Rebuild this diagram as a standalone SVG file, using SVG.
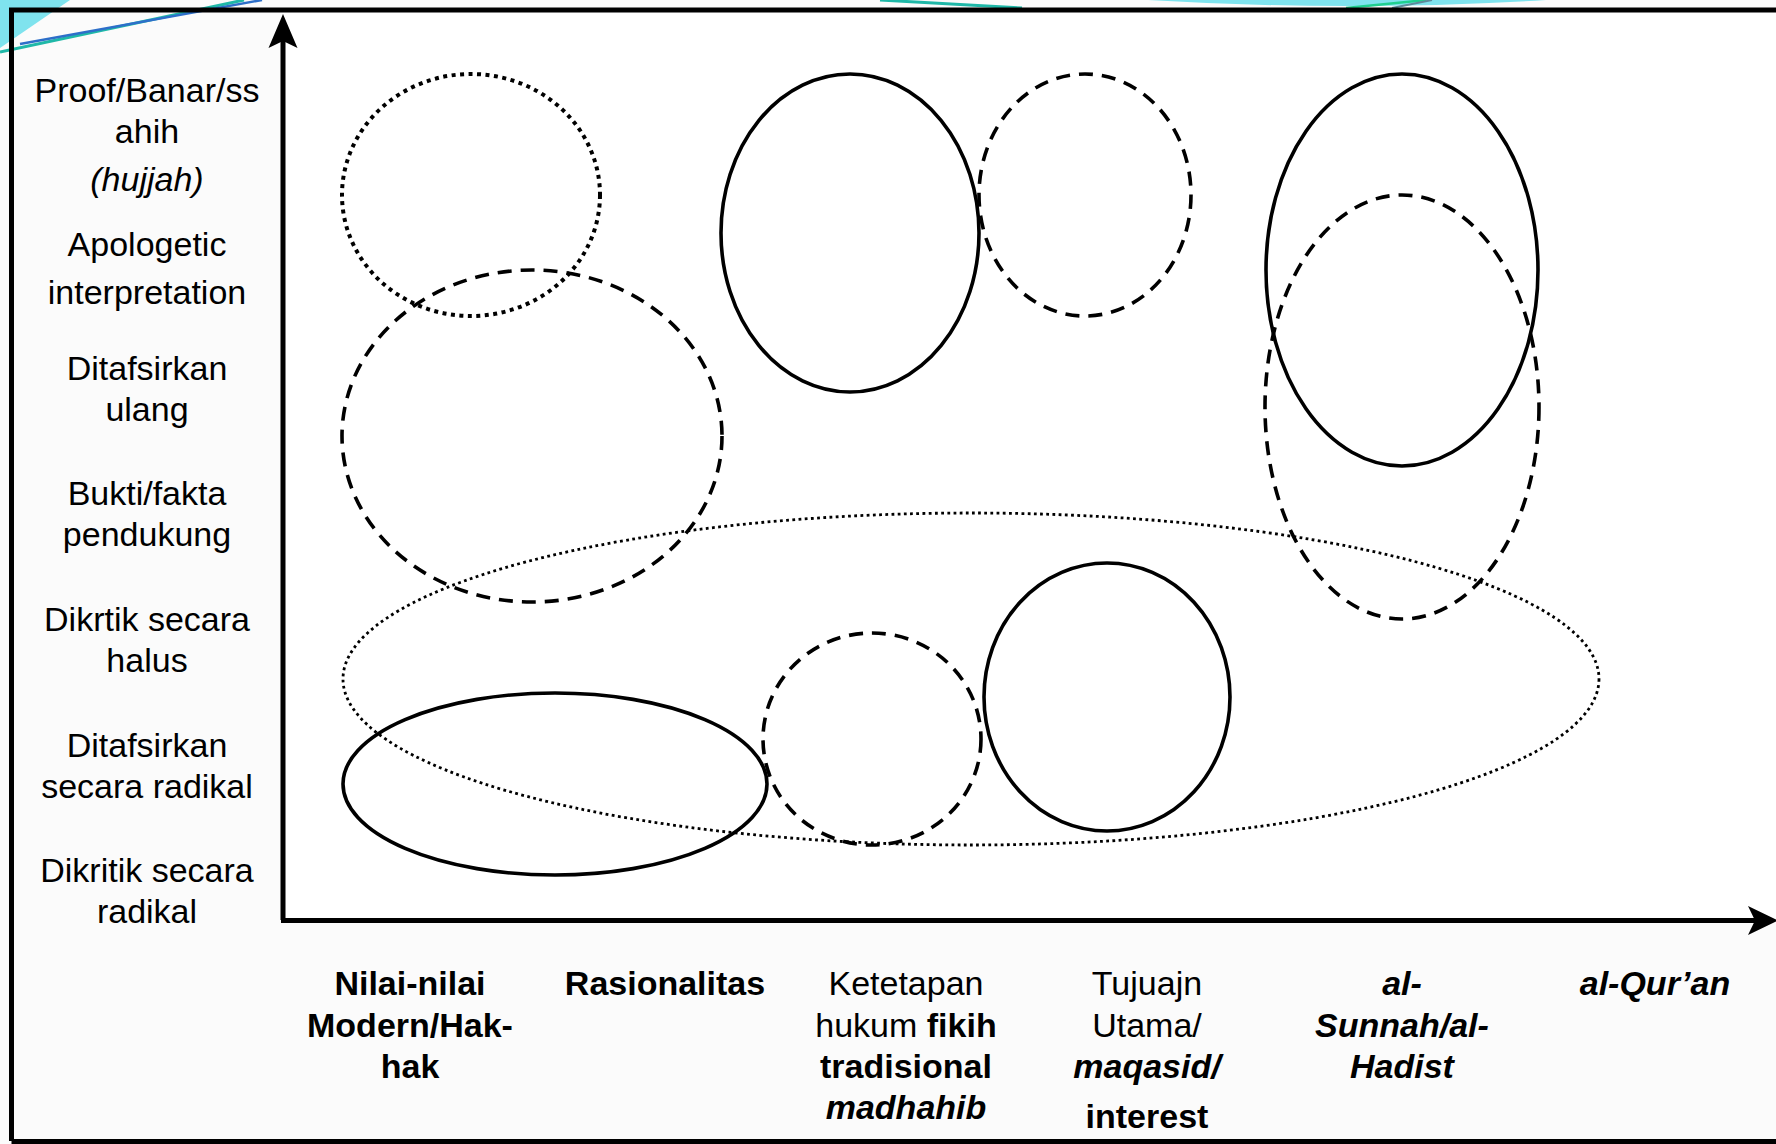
<svg xmlns="http://www.w3.org/2000/svg" width="1776" height="1144" viewBox="0 0 1776 1144">
  <defs>
    <style>
      .lbl { font-family: "Liberation Sans", Arial, sans-serif; font-size: 34px; fill: #000; text-anchor: middle; }
      .b { font-weight: bold; }
      .i { font-style: italic; }
      .solid { fill: none; stroke: #000; stroke-width: 3.6; }
      .dash { fill: none; stroke: #000; stroke-width: 3.6; stroke-dasharray: 14 9; }
      .dot { fill: none; stroke: #000; stroke-width: 4; stroke-dasharray: 4 4.5; }
      .fine { fill: none; stroke: #000; stroke-width: 2.8; stroke-dasharray: 2.8 3.4; }
      .axis { fill: none; stroke: #000; stroke-width: 5; }
      .frame { fill: none; stroke: #000; stroke-width: 5; }
    </style>
  </defs>

  <!-- page background -->
  <rect x="0" y="0" width="1776" height="1144" fill="#fbfbfb"/>
  <!-- plot area -->
  <rect x="283" y="12" width="1493" height="908" fill="#ffffff"/>

  <!-- theme swooshes above the frame -->
  <g id="swoosh">
    <polygon points="0,0 70,0 0,48" fill="#7fe3ee"/>
    <line x1="0" y1="52" x2="244" y2="0" stroke="#1fb8a8" stroke-width="3"/>
    <line x1="20" y1="44" x2="262" y2="0" stroke="#2d6fc9" stroke-width="2.5"/>
    <path d="M1148,0 Q1346,12 1546,0 Z" fill="#7fe3ee"/>
    <line x1="880" y1="0" x2="1022" y2="8" stroke="#1fb8a8" stroke-width="3"/>
    <line x1="1346" y1="8" x2="1426" y2="0" stroke="#1fcf8f" stroke-width="2.5"/>
    <line x1="1392" y1="8" x2="1432" y2="0" stroke="#5d8a9a" stroke-width="2"/>
  </g>

  <!-- outer frame -->
  <path class="frame" d="M11.5,1141 V10 H1776 M11.5,1141.5 H1776"/>

  <!-- axes -->
  <g id="connectors">
    <path class="axis" d="M283,920 V40"/>
    <path d="M283,14 L268.5,48 L283,41 L297.5,48 Z" fill="#000"/>
    <path class="axis" d="M281,920.5 H1755"/>
    <path d="M1778,920.5 L1748,906 L1755,920.5 L1748,935 Z" fill="#000"/>
  </g>

  <!-- y-axis labels -->
  <g id="y-labels" class="lbl">
    <text x="147" y="102">Proof/Banar/ss</text>
    <text x="147" y="143">ahih</text>
    <text x="147" y="191" class="i">(hujjah)</text>
    <text x="147" y="256">Apologetic</text>
    <text x="147" y="304">interpretation</text>
    <text x="147" y="380">Ditafsirkan</text>
    <text x="147" y="421">ulang</text>
    <text x="147" y="505">Bukti/fakta</text>
    <text x="147" y="546">pendukung</text>
    <text x="147" y="631">Dikrtik secara</text>
    <text x="147" y="672">halus</text>
    <text x="147" y="757">Ditafsirkan</text>
    <text x="147" y="798">secara radikal</text>
    <text x="147" y="882">Dikritik secara</text>
    <text x="147" y="923">radikal</text>
  </g>

  <!-- x-axis labels -->
  <g id="x-labels" class="lbl">
    <g id="x-nilai" class="b">
      <text x="410" y="995">Nilai-nilai</text>
      <text x="410" y="1037">Modern/Hak-</text>
      <text x="410" y="1078">hak</text>
    </g>
    <g id="x-rasio" class="b">
      <text x="665" y="995">Rasionalitas</text>
    </g>
    <g id="x-fikih">
      <text x="906" y="995">Ketetapan</text>
      <text x="906" y="1037">hukum <tspan class="b">fikih</tspan></text>
      <text x="906" y="1078" class="b">tradisional</text>
      <text x="906" y="1119" class="b i">madhahib</text>
    </g>
    <g id="x-maqasid">
      <text x="1147" y="995">Tujuajn</text>
      <text x="1147" y="1037">Utama/</text>
      <text x="1147" y="1078" class="b i">maqasid/</text>
      <text x="1147" y="1128" class="b">interest</text>
    </g>
    <g id="x-sunnah" class="b i">
      <text x="1402" y="995">al-</text>
      <text x="1402" y="1037">Sunnah/al-</text>
      <text x="1402" y="1078">Hadist</text>
    </g>
    <g id="x-quran" class="b i">
      <text x="1655" y="995">al-Qur’an</text>
    </g>
  </g>

  <!-- regions in the plot -->
  <g id="e-modern-hujjah"><ellipse class="dot" cx="471" cy="195" rx="129" ry="121"/></g>
  <g id="e-modern-reinterp"><ellipse class="dash" cx="532" cy="436" rx="190" ry="166"/></g>
  <g id="e-rasio-top"><ellipse class="solid" cx="850" cy="233" rx="129" ry="159"/></g>
  <g id="e-fikih-top"><ellipse class="dash" cx="1085" cy="195" rx="106" ry="121"/></g>
  <g id="e-sunnah-solid"><ellipse class="solid" cx="1402" cy="270" rx="136" ry="196"/></g>
  <g id="e-sunnah-dash"><ellipse class="dash" cx="1402" cy="407" rx="137" ry="212"/></g>
  <g id="e-wide"><ellipse class="fine" cx="971" cy="679" rx="628" ry="166"/></g>
  <g id="e-modern-radical"><ellipse class="solid" cx="555" cy="784" rx="212" ry="91"/></g>
  <g id="e-fikih-low"><ellipse class="dash" cx="872" cy="739" rx="109" ry="106"/></g>
  <g id="e-maqasid-low"><ellipse class="solid" cx="1107" cy="697" rx="123" ry="134"/></g>
</svg>
